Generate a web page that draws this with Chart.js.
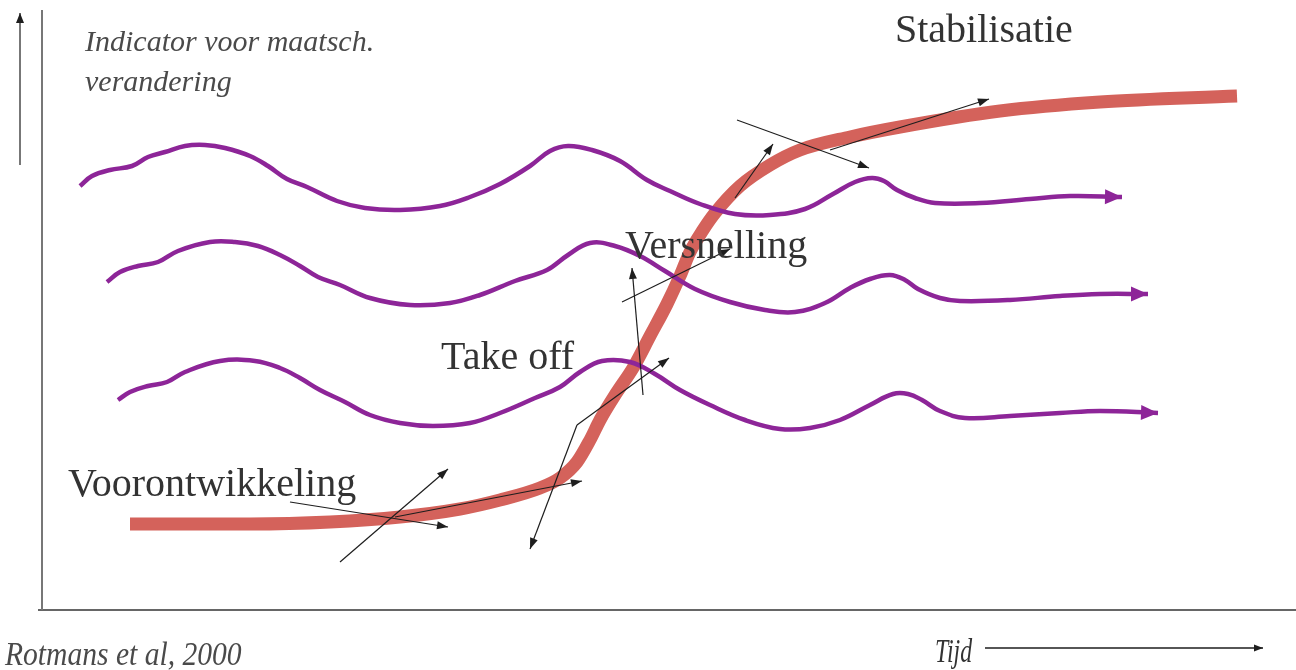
<!DOCTYPE html>
<html>
<head>
<meta charset="utf-8">
<script src="https://cdn.jsdelivr.net/npm/chart.js@4/dist/chart.umd.min.js"></script>
<style>
	body { margin: 0; background: #fff; }
	#wrap { width: 1296px; height: 670px; position: relative; }
</style>
</head>
<body>
<div id="wrap"><canvas id="chart"></canvas></div>
<script>
// ================ Data (x = time, y = level, y grows down) ================
const sCurve = [
	[130, 524], [250, 524], [330, 522], [400, 517], [460, 509], [500, 500], [540, 488],
	[560, 478], [577, 462], [590, 440], [600, 420], [617, 392], [633, 368], [650, 336],
	[667, 304], [680, 276], [690, 252], [703, 230], [715, 213], [740, 186], [770, 165],
	[800, 150], [850, 137], [900, 127], [1000, 111], [1100, 102], [1237, 96],
];

const waveTop = [
	[80, 186], [92, 176], [110, 170], [132, 166], [148, 157], [165, 152], [185, 146],
	[205, 145], [225, 148], [250, 156], [268, 166], [287, 179], [307, 187], [337, 201],
	[365, 208], [400, 210], [440, 206], [470, 197], [500, 184], [530, 166], [550, 151],
	[568, 146], [592, 150], [620, 161], [647, 180], [670, 191], [700, 204], [735, 214],
	[770, 215], [805, 209], [833, 194], [855, 182], [872, 178], [884, 181], [897, 190],
	[915, 198], [935, 203], [980, 203], [1030, 199], [1070, 196], [1122, 197],
];

const waveMid = [
	[107, 282], [120, 272], [138, 266], [158, 262], [178, 251], [210, 242], [235, 242],
	[258, 246], [280, 255], [300, 266], [318, 277], [340, 285], [370, 298], [410, 305],
	[450, 303], [480, 295], [515, 281], [547, 270], [568, 255], [590, 243], [615, 246],
	[640, 256], [665, 271], [695, 289], [730, 302], [765, 310], [795, 312], [825, 303],
	[850, 288], [870, 279], [890, 275], [905, 280], [918, 289], [940, 298], [960, 301],
	[1010, 300], [1060, 296], [1100, 294], [1148, 294],
];

const waveLow = [
	[118, 400], [130, 392], [148, 386], [167, 382], [185, 372], [220, 361], [255, 361],
	[280, 368], [300, 378], [320, 390], [345, 402], [370, 415], [400, 423], [433, 426],
	[470, 423], [500, 413], [535, 398], [560, 387], [580, 372], [602, 361], [630, 362],
	[655, 374], [680, 390], [710, 405], [745, 420], [780, 429], [810, 428], [840, 420],
	[870, 405], [893, 394], [908, 394], [922, 400], [940, 411], [965, 418], [1010, 416],
	[1060, 413], [1100, 411], [1158, 413],
];

// thin black arrows: [fromX, fromY, toX, toY]
const pushArrows = [
	[290, 502, 448, 527],
	[340, 562, 448, 469],
	[395, 517, 582, 481],
	[577, 425, 530, 549],
	[577, 425, 669, 358],
	[643, 395, 632, 268],
	[622, 302, 730, 249],
	[735, 198, 773, 144],
	[737, 120, 869, 168],
	[830, 150, 989, 99],
];

const yAxisLine = [[42, 10], [42, 610]];
const xAxisLine = [[38, 610], [1296, 610]];
const yArrow = [[20, 165], [20, 13]];
const timeArrow = [[985, 648], [1263, 648]];

const phaseLabels = ["Voorontwikkeling", "Take off", "Versnelling", "Stabilisatie"];
const phaseAnchor = [[68, 496], [441, 369], [625, 258], [895, 42]];

const COLORS = {
	red: "#d4625b",
	purple: "#8d2598",
	black: "#1e1e1e",
	axis: "#777",
	text: "#333",
	italic: "#4a4a4a",
};

// ================ Helpers ================
function pts(arr) {
	return arr.map(p => ({ x: p[0], y: p[1] }));
}

function lineSet(arr, color, width, extra) {
	return Object.assign({
		data: pts(arr),
		borderColor: color,
		borderWidth: width,
		pointRadius: 0,
		fill: false,
		tension: 0,
		clip: false,
	}, extra || {});
}

// arrowheads at the end of datasets that carry a "head" option
const arrowHeads = {
	id: "arrowHeads",
	afterDatasetsDraw(chart) {
		const ctx = chart.ctx;
		chart.data.datasets.forEach((ds, i) => {
			if (!ds.head) return;
			const el = chart.getDatasetMeta(i).data;
			const a = el[el.length - 2], b = el[el.length - 1];
			const ang = Math.atan2(b.y - a.y, b.x - a.x);
			ctx.save();
			ctx.translate(b.x, b.y);
			ctx.rotate(ang);
			ctx.beginPath();
			ctx.moveTo(0, 0);
			ctx.lineTo(-ds.head.len, -ds.head.wid / 2);
			ctx.lineTo(-ds.head.len, ds.head.wid / 2);
			ctx.closePath();
			ctx.fillStyle = ds.head.color;
			ctx.fill();
			ctx.restore();
		});
	},
};

// text in the diagram
const diagramText = {
	id: "diagramText",
	afterDraw(chart) {
		const ctx = chart.ctx;
		const sx = chart.scales.x, sy = chart.scales.y;
		const put = (txt, x, y, font, color, scaleX) => {
			ctx.save();
			ctx.font = font;
			ctx.fillStyle = color;
			ctx.textBaseline = "alphabetic";
			ctx.translate(sx.getPixelForValue(x), sy.getPixelForValue(y));
			ctx.scale(scaleX || 1, 1);
			ctx.fillText(txt, 0, 0);
			ctx.restore();
		};
		put("Indicator voor maatsch.", 85, 51, "italic 30px 'Liberation Serif'", COLORS.italic);
		put("verandering", 85, 91, "italic 30px 'Liberation Serif'", COLORS.italic);
		phaseLabels.forEach((t, i) => {
			put(t, phaseAnchor[i][0], phaseAnchor[i][1], "40px 'Liberation Serif'", COLORS.text);
		});
		put("Rotmans et al, 2000", 5, 665, "italic 34px 'Liberation Serif'", COLORS.italic, 0.87);
		put("Tijd", 935, 662, "italic 34px 'Liberation Serif'", COLORS.text, 0.7);
	},
};

// ================ Chart ================
const purpleHead = { len: 17, wid: 15, color: COLORS.purple };
const blackHead = { len: 11, wid: 8, color: COLORS.black };

const datasets = [];
pushArrows.forEach(a => {
	datasets.push(lineSet([[a[0], a[1]], [a[2], a[3]]], COLORS.black, 1.2, { head: blackHead, order: 0 }));
});
datasets.push(lineSet(timeArrow, COLORS.black, 1.5, { head: { len: 9, wid: 7, color: COLORS.black }, order: 0 }));
datasets.push(lineSet(yArrow, COLORS.axis, 2, { head: { len: 10, wid: 8, color: COLORS.black }, order: 0 }));
datasets.push(lineSet(yAxisLine, COLORS.axis, 2, { order: 0 }));
datasets.push(lineSet(xAxisLine, "#666", 2, { order: 0 }));
[waveTop, waveMid, waveLow].forEach(w => {
	datasets.push(lineSet(w, COLORS.purple, 4.5, { tension: 0.4, head: purpleHead, order: 1 }));
});
datasets.push(lineSet(sCurve, COLORS.red, 13, { tension: 0.4, cubicInterpolationMode: "monotone", order: 2, borderCapStyle: "butt" }));

const chart = new Chart(document.getElementById("chart"), {
	type: "line",
	data: { datasets },
	options: {
		responsive: true,
		maintainAspectRatio: false,
		animation: false,
		layout: { padding: 0 },
		plugins: {
			legend: { display: false },
			tooltip: { enabled: false },
		},
		scales: {
			x: { type: "linear", min: 0, max: 1296, display: false },
			y: { type: "linear", min: 0, max: 670, reverse: true, display: false },
		},
	},
	plugins: [arrowHeads, diagramText],
});
</script>
</body>
</html>
